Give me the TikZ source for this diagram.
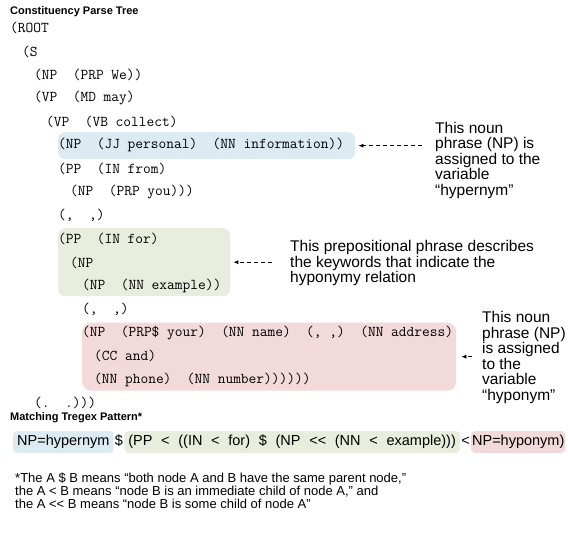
\documentclass[tikz,border=0pt]{standalone}
\usepackage{fontspec}
\setmainfont{Liberation Sans}
\usetikzlibrary{positioning,calc,arrows.meta}
\definecolor{hyperblue}{RGB}{219,235,241}
\definecolor{prepgreen}{RGB}{233,237,222}
\definecolor{hypopink}{RGB}{242,217,218}

\begin{document}
\begin{tikzpicture}[x=1pt,y=-1pt,
  line/.style={anchor=west,inner sep=0pt,font=\ttfamily\fontsize{15}{16}\selectfont},
  note/.style={anchor=north west,inner sep=0pt,align=left,font=\fontsize{15.5}{15.5}\selectfont},
  title/.style={anchor=west,inner sep=0pt,font=\bfseries\fontsize{11}{13}\selectfont},
  band/.style={anchor=north west,inner sep=0pt,rounded corners=7pt},
  pat/.style={inner xsep=4pt,inner ysep=4pt,text height=10.5pt,text depth=3.5pt,
    rounded corners=4pt,font=\fontsize{14.5}{17}\selectfont},
  hint/.style={line width=0.7pt,dash pattern=on 4pt off 3pt,-{Latex[length=5pt,width=4pt]}}]
  \useasboundingbox (0,0) rectangle (568,535);

  \node [band,fill=hyperblue,minimum width=297pt,minimum height=27pt] (hyper) at (58,132) {};
  \node [band,fill=prepgreen,minimum width=172pt,minimum height=68pt] (prep) at (58,228) {};
  \node [band,fill=hypopink,minimum width=374pt,minimum height=68pt,rounded corners=9pt] (hypo) at (82,322.5) {};

  \node [title] (treetitle) at (10,12) {Constituency Parse Tree};
  \node [line] (root) at (10,28) {(ROOT};
  \node [line] (s) at (22,51.45) {(S};
  \node [line] (npwe) at (34,74.9) {(NP~~(PRP We))};
  \node [line] (vpmay) at (34,98.35) {(VP~~(MD may)};
  \node [line] (vpcollect) at (46,121.8) {(VP~~(VB collect)};
  \node [line] (nphyper) at (58,145.25) {(NP~~(JJ personal)~~(NN information))};
  \node [line] (ppfrom) at (58,168.7) {(PP~~(IN from)};
  \node [line] (npyou) at (70,192.15) {(NP~~(PRP you)))};
  \node [line] (commaa) at (58,215.6) {(,~~,)};
  \node [line] (ppfor) at (58,239.05) {(PP~~(IN for)};
  \node [line] (npouter) at (70,262.5) {(NP};
  \node [line] (npexample) at (82,285.95) {(NP~~(NN example))};
  \node [line] (commab) at (82,309.4) {(,~~,)};
  \node [line] (nphypo) at (82,332.85) {(NP~~(PRP\$ your)~~(NN name)~~(, ,)~~(NN address)};
  \node [line] (ccand) at (94,356.3) {(CC and)};
  \node [line] (nnphone) at (94,379.75) {(NN phone)~~(NN number))))))};
  \node [line] (period) at (34,403.2) {(.~~.)))};

  \node [note] (notehyper) at (435,122) {This noun\\phrase (NP) is\\assigned to the\\variable\\“hypernym”};
  \node [note] (noteprep) at (290,240.5) {This prepositional phrase describes\\the keywords that indicate the\\hyponymy relation};
  \node [note] (notehypo) at (482,311.5) {This noun\\phrase (NP)\\is assigned\\to the\\variable\\“hyponym”};
  \draw [hint] ($(notehyper.west |- hyper.east)+(-13,0)$) -- ($(hyper.east)+(3,0)$);
  \draw [hint] ($(noteprep.west |- prep.east)+(-18,0)$) -- ($(prep.east)+(3,0)$);
  \draw [hint] ($(notehypo.west |- hypo.east)+(-10,0)$) -- ($(hypo.east)+(5,0)$);

  \node [title] (pattitle) at (10,418) {Matching Tregex Pattern*};
  \node [pat,fill=hyperblue,anchor=west] (pathyper) at (13,442) {NP=hypernym};
  \node [pat,inner xsep=1pt,right=0pt of pathyper] (patsib) {\$};
  \node [pat,fill=prepgreen,right=0pt of patsib] (patprep)
    {\spaceskip=0.6em\relax (PP < ((IN < for) \$ (NP <\kern0pt< (NN < example)))};
  \node [pat,inner xsep=1pt,right=0pt of patprep] (patchild) {<};
  \node [pat,fill=hypopink,inner xsep=1pt,right=0pt of patchild] (pathypo) {NP=hyponym)};

  \node [anchor=north west,inner sep=0pt,align=left,font=\fontsize{13}{13}\selectfont] (footnote) at (15,472.5)
    {*The A \$ B means “both node A and B have the same parent node,”\\
     the A < B means “node B is an immediate child of node A,” and\\
     the A <\kern0pt< B means “node B is some child of node A"};
\end{tikzpicture}
\end{document}
